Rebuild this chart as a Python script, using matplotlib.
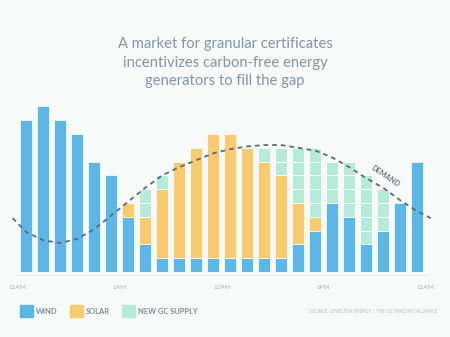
import matplotlib
matplotlib.use("Agg")
import matplotlib.pyplot as plt
from matplotlib.patches import Rectangle

plt.rcParams['font.family'] = ['Lato', 'DejaVu Sans']

# hourly supply (units), 24 bars from 12AM to 11PM
wind = [11, 12, 11, 10, 8, 7, 4, 2, 1, 1, 1, 1, 1, 1, 1, 1, 2, 3, 5, 4, 2, 3, 5, 8]
solar = [0, 0, 0, 0, 0, 0, 1, 2, 5, 7, 8, 9, 9, 8, 7, 6, 3, 1, 0, 0, 0, 0, 0, 0]
gc = [0, 0, 0, 0, 0, 0, 0, 2, 1, 0, 0, 0, 0, 0, 1, 2, 4, 5, 3, 4, 5, 3, 0, 0]

# demand curve
demand_x = [-0.8, 0, 1, 2, 3, 4, 5, 6, 7, 8, 9, 10, 11, 12, 13, 14, 15, 16, 17,
            18, 19, 20, 21, 22, 23, 23.8]
demand_y = [3.9, 2.9, 2.3, 2.1, 2.4, 3.1, 4.1, 5.1, 6.1, 7.0, 7.6, 8.1, 8.6, 8.9,
            9.1, 9.2, 9.2, 9.0, 8.8, 8.3, 7.6, 6.8, 6.1, 5.2, 4.4, 3.9]

tick_pos = [-0.5, 5.5, 11.5, 17.5, 23.5]
tick_labels = ['12AM', '6AM', '12PM', '6PM', '12AM']

c_wind = '#5cb6e6'
c_solar = '#f7cb6e'
c_gc = '#b5ebd8'
bg = '#f8f9f9'
txt = '#8495a3'

W, H = 450, 337
fig = plt.figure(figsize=(4.5, 3.37), dpi=100, facecolor=bg)
ax = fig.add_axes([0.7 / W, 65 / H, 442 / W, 179.4 / H])
ax.set_facecolor(bg)
ax.set_xlim(-1.5, 24.5)
ax.set_ylim(0, 13)
ax.axis('off')

bw = 0.74


def draw(vals, bottoms, color, lw=0.5):
    xs = [i for i, v in enumerate(vals) if v > 0]
    ax.bar(xs, [vals[i] for i in xs], width=bw, bottom=[bottoms[i] for i in xs],
           color=color, edgecolor='white', linewidth=lw)


draw(wind, [0] * 24, c_wind)
draw(solar, wind, c_solar)
# new GC supply drawn unit by unit (segmented look)
base = [w + s for w, s in zip(wind, solar)]
for k in range(max(gc)):
    draw([1 if g > k else 0 for g in gc], [b + k for b in base], c_gc, lw=0.6)

ax.plot(demand_x, demand_y, color='#5d6d74', lw=1.3, linestyle=(0, (2.6, 2.2)),
        solid_capstyle='round')
ax.text(21.15, 6.95, 'DEMAND', rotation=-34, fontsize=5.2, fontweight='bold',
        color='#6a7a84', ha='center', va='center')

# faint baseline
ax.plot([-0.6, 23.6], [-0.22, -0.22], color='#e6eaec', lw=0.8, clip_on=False)
for p, lab in zip(tick_pos, tick_labels):
    ax.text(p, -1.1, lab, fontsize=4.6, color='#a9b5bd', ha='center', va='center')

fig.text(0.5, 1 - 62.5 / H,
         'A market for granular certificates\nincentivizes carbon-free energy\ngenerators to fill the gap',
         ha='center', va='center', fontsize=10.6, color=txt, linespacing=1.38)

# legend
items = [(20, c_wind, 'WIND'), (70, c_solar, 'SOLAR'), (122, c_gc, 'NEW GC SUPPLY')]
for x0, c, lab in items:
    fig.patches.append(Rectangle((x0 / W, 1 - 317 / H), 13 / W, 12 / H,
                                 transform=fig.transFigure, color=c))
    fig.text((x0 + 16) / W, 1 - 311 / H, lab, fontsize=5.4, fontweight='bold',
             color='#7f8d97', ha='left', va='center')

fig.text(438 / W, 1 - 311 / H, 'SOURCE: LEVELTEN ENERGY / THE GC TRADING ALLIANCE',
         fontsize=3.4, color='#b3bec5', ha='right', va='center')

fig.savefig('out.png', dpi=100, facecolor=bg)
